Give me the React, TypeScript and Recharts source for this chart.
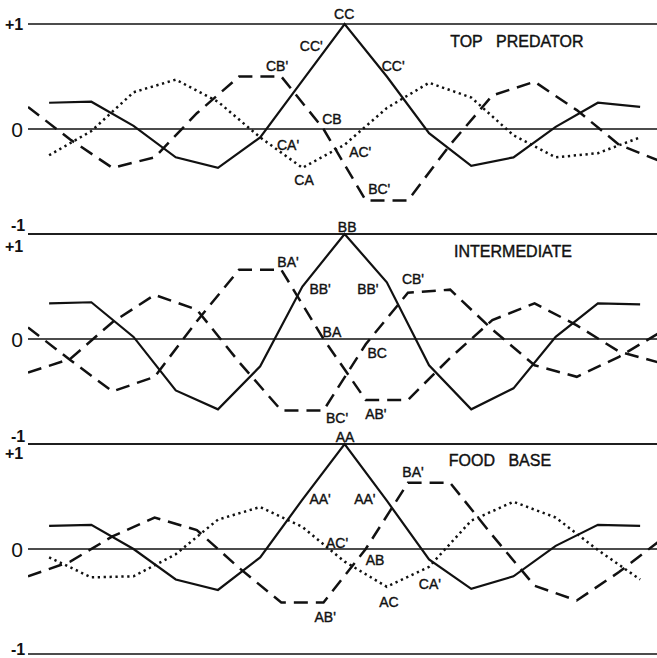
import React from 'react';
import { LineChart, Line, XAxis, YAxis, ReferenceLine, ReferenceDot } from 'recharts';

// Steps along the cycle: solid and dotted traces turn on whole steps,
// dashed traces turn on the half steps between them.
const wholeSteps = [0, 1, 2, 3, 4, 5, 6, 7, 8, 9, 10, 11, 12, 13, 14];
const halfSteps = [-0.5, 0.5, 1.5, 2.5, 3.5, 4.5, 5.5, 6.5, 7.5, 8.5, 9.5, 10.5, 11.5, 12.5, 13.5, 14.5];

// TOP PREDATOR
const topSelf = [0.25, 0.26, 0.03, -0.27, -0.37, -0.08, 0.46, 1.0, 0.5, -0.04, -0.35, -0.27, 0.02, 0.25, 0.21];
const topWithB = [0.21, -0.1, -0.37, -0.27, 0.15, 0.5, 0.5, 0.0, -0.68, -0.68, -0.15, 0.32, 0.45, 0.18, -0.15, -0.31];
const topWithA = [-0.25, -0.02, 0.35, 0.47, 0.26, -0.08, -0.37, -0.15, 0.2, 0.44, 0.3, -0.06, -0.27, -0.23, -0.08];

// INTERMEDIATE
const midSelf = [0.34, 0.35, 0.02, -0.49, -0.67, -0.26, 0.5, 1.0, 0.54, -0.25, -0.67, -0.47, 0.02, 0.34, 0.33];
const midWithA = [0.11, -0.2, -0.5, -0.36, 0.17, 0.66, 0.66, 0.0, -0.58, -0.58, -0.18, 0.18, 0.34, 0.13, -0.12, -0.23];
const midWithC = [-0.32, -0.19, 0.16, 0.42, 0.28, -0.22, -0.68, -0.68, -0.05, 0.44, 0.47, 0.09, -0.25, -0.36, -0.17, 0.07];

// FOOD BASE
const baseSelf = [0.22, 0.23, 0.0, -0.29, -0.39, -0.08, 0.47, 1.0, 0.46, -0.1, -0.38, -0.26, 0.03, 0.23, 0.22];
const baseWithB = [-0.26, -0.12, 0.12, 0.3, 0.18, -0.18, -0.51, -0.51, 0.0, 0.63, 0.63, 0.13, -0.35, -0.49, -0.22, 0.09];
const baseWithC = [-0.08, -0.27, -0.26, -0.05, 0.28, 0.4, 0.21, -0.12, -0.36, -0.17, 0.27, 0.45, 0.3, -0.01, -0.29];

// Level marks on the left of every panel
const levelTicks = [-1, 0, 1];

// Curve tags: text, step along the cycle, level
const topTags = [
  { text: 'CC', at: 6.99, level: 1.1 },
  { text: "CC'", at: 6.21, level: 0.79 },
  { text: "CC'", at: 8.15, level: 0.6 },
  { text: "CB'", at: 5.4, level: 0.6 },
  { text: 'CB', at: 6.7, level: 0.1 },
  { text: "CA'", at: 5.66, level: -0.15 },
  { text: "AC'", at: 7.37, level: -0.22 },
  { text: 'CA', at: 6.04, level: -0.49 },
  { text: "BC'", at: 7.82, level: -0.57 },
];
const midTags = [
  { text: 'BB', at: 7.06, level: 1.07 },
  { text: "BA'", at: 5.66, level: 0.73 },
  { text: "BB'", at: 6.42, level: 0.48 },
  { text: "BB'", at: 7.55, level: 0.48 },
  { text: "CB'", at: 8.62, level: 0.57 },
  { text: 'BA', at: 6.7, level: 0.07 },
  { text: 'BC', at: 7.77, level: -0.13 },
  { text: "BC'", at: 6.82, level: -0.75 },
  { text: "AB'", at: 7.74, level: -0.71 },
];
const baseTags = [
  { text: 'AA', at: 7.01, level: 1.07 },
  { text: "BA'", at: 8.62, level: 0.73 },
  { text: "AA'", at: 6.42, level: 0.48 },
  { text: "AA'", at: 7.48, level: 0.48 },
  { text: "AC'", at: 6.82, level: 0.06 },
  { text: 'AB', at: 7.72, level: -0.1 },
  { text: 'AC', at: 8.05, level: -0.5 },
  { text: "CA'", at: 9.02, level: -0.33 },
  { text: "AB'", at: 6.54, level: -0.65 },
];

const panelTitles = [
  { text: 'TOP\u00a0\u00a0\u00a0PREDATOR', at: 11.08, level: 0.83 },
  { text: 'INTERMEDIATE', at: 10.99, level: 0.83 },
  { text: 'FOOD\u00a0\u00a0\u00a0BASE', at: 10.68, level: 0.84 },
];

const FONT = '"Liberation Sans", Arial, Helvetica, sans-serif';
const INK = '#111';

type Stroke = 'solid' | 'dashed' | 'dotted';
type Trace = { name: string; steps: number[]; values: number[]; stroke: Stroke };
type Tag = { text: string; at: number; level: number };

const strokeStyles: Record<Stroke, { width: number; dash?: string }> = {
  solid: { width: 2.2 },
  dashed: { width: 2.5, dash: '14 8' },
  dotted: { width: 2.5, dash: '2.3 3.6' },
};

const toPoints = (steps: number[], values: number[]) =>
  steps.map((x, k) => ({ x, v: values[k] }));

function tagText(text: string, size: number) {
  return (props: any) => {
    const vb = props.viewBox || {};
    const cx = (vb.x ?? 0) + (vb.width ?? 0) / 2;
    const cy = (vb.y ?? 0) + (vb.height ?? 0) / 2;
    return (
      <text
        x={cx}
        y={cy}
        textAnchor="middle"
        dominantBaseline="central"
        fontFamily={FONT}
        fontSize={size}
        fill={INK}
        stroke={INK}
        strokeWidth={0.4}
      >
        {text}
      </text>
    );
  };
}

function levelMark(plusShift: number, minusShift: number) {
  return (props: any) => {
    const v = Number(props.payload?.value);
    const y = Number(props.y);
    if (v === 0) {
      return (
        <text x={17} y={y} textAnchor="middle" dominantBaseline="central" fontFamily={FONT} fontSize={21} fill={INK}>
          0
        </text>
      );
    }
    const up = v > 0;
    return (
      <text
        x={up ? 14 : 18}
        y={y + (up ? plusShift : minusShift)}
        textAnchor="middle"
        dominantBaseline="central"
        fontFamily={FONT}
        fontSize={16}
        fontWeight={700}
        fill={INK}
      >
        {up ? '+1' : '-1'}
      </text>
    );
  };
}

type PanelProps = {
  top: number;
  traces: Trace[];
  tags: Tag[];
  title: Tag;
  plusShift: number;
  minusShift: number;
};

function Panel({ top, traces, tags, title, plusShift, minusShift }: PanelProps) {
  return (
    <div style={{ position: 'absolute', left: 0, top, width: 657, height: 238 }}>
      <LineChart width={657} height={238} margin={{ top: 24, right: 0, bottom: 4, left: 0 }}>
        <XAxis type="number" dataKey="x" domain={[-0.5, 14.4]} allowDataOverflow hide />
        <YAxis
          type="number"
          domain={[-1, 1]}
          ticks={levelTicks}
          interval={0}
          width={28}
          axisLine={false}
          tickLine={false}
          tick={levelMark(plusShift, minusShift)}
        />
        {levelTicks.map((lv) => (
          <ReferenceLine key={`lvl-${lv}`} y={lv} stroke={INK} strokeWidth={lv === 0 ? 1.4 : 1.6} ifOverflow="visible" />
        ))}
        {traces.map((t) => (
          <Line
            key={t.name}
            name={t.name}
            data={toPoints(t.steps, t.values)}
            dataKey="v"
            type="linear"
            stroke={INK}
            strokeWidth={strokeStyles[t.stroke].width}
            strokeDasharray={strokeStyles[t.stroke].dash}
            dot={false}
            activeDot={false}
            isAnimationActive={false}
          />
        ))}
        {tags.map((g, k) => (
          <ReferenceDot
            key={`tag-${k}`}
            x={g.at}
            y={g.level}
            r={0}
            fill="none"
            stroke="none"
            ifOverflow="visible"
            label={tagText(g.text, 14)}
          />
        ))}
        <ReferenceDot
          x={title.at}
          y={title.level}
          r={0}
          fill="none"
          stroke="none"
          ifOverflow="visible"
          label={tagText(title.text, 16)}
        />
      </LineChart>
    </div>
  );
}

export default function App() {
  return (
    <div
      style={{
        position: 'absolute',
        left: 0,
        top: 0,
        width: 657,
        height: 658,
        background: '#fff',
        overflow: 'hidden',
        fontFamily: FONT,
      }}
    >
      <Panel
        top={0}
        title={panelTitles[0]}
        tags={topTags}
        plusShift={0}
        minusShift={-9}
        traces={[
          { name: 'CB', steps: halfSteps, values: topWithB, stroke: 'dashed' },
          { name: 'CA', steps: wholeSteps, values: topWithA, stroke: 'dotted' },
          { name: 'CC', steps: wholeSteps, values: topSelf, stroke: 'solid' },
        ]}
      />
      <Panel
        top={210}
        title={panelTitles[1]}
        tags={midTags}
        plusShift={12}
        minusShift={-8}
        traces={[
          { name: 'BA', steps: halfSteps, values: midWithA, stroke: 'dashed' },
          { name: 'BC', steps: halfSteps, values: midWithC, stroke: 'dashed' },
          { name: 'BB', steps: wholeSteps, values: midSelf, stroke: 'solid' },
        ]}
      />
      <Panel
        top={420}
        title={panelTitles[2]}
        tags={baseTags}
        plusShift={9}
        minusShift={-5}
        traces={[
          { name: 'AB', steps: halfSteps, values: baseWithB, stroke: 'dashed' },
          { name: 'AC', steps: wholeSteps, values: baseWithC, stroke: 'dotted' },
          { name: 'AA', steps: wholeSteps, values: baseSelf, stroke: 'solid' },
        ]}
      />
    </div>
  );
}
